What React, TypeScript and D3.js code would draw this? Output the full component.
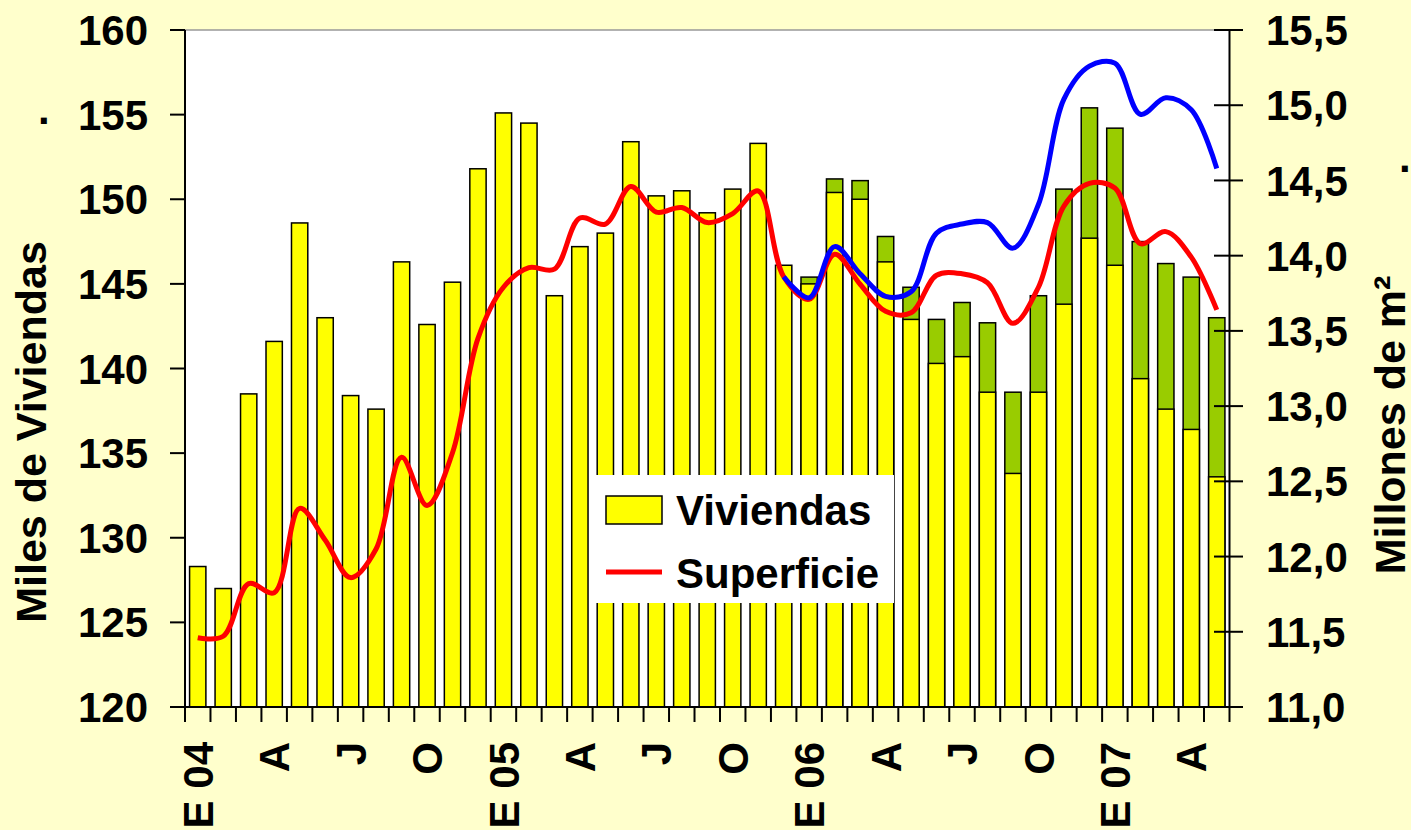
import React from 'react';
import * as d3 from 'd3';

// months Jan 2004 .. May 2007
const months = [
  'ene-04', 'feb-04', 'mar-04', 'abr-04', 'may-04', 'jun-04', 'jul-04', 'ago-04', 'sep-04', 'oct-04', 'nov-04', 'dic-04',
  'ene-05', 'feb-05', 'mar-05', 'abr-05', 'may-05', 'jun-05', 'jul-05', 'ago-05', 'sep-05', 'oct-05', 'nov-05', 'dic-05',
  'ene-06', 'feb-06', 'mar-06', 'abr-06', 'may-06', 'jun-06', 'jul-06', 'ago-06', 'sep-06', 'oct-06', 'nov-06', 'dic-06',
  'ene-07', 'feb-07', 'mar-07', 'abr-07', 'may-07'
];

const labelMonths = ['ene-04', 'abr-04', 'jul-04', 'oct-04', 'ene-05', 'abr-05', 'jul-05', 'oct-05',
  'ene-06', 'abr-06', 'jul-06', 'oct-06', 'ene-07', 'abr-07'];
const labelText = ['E 04', 'A', 'J', 'O', 'E 05', 'A', 'J', 'O', 'E 06', 'A', 'J', 'O', 'E 07', 'A'];

// miles de viviendas
const viviendas = [
  128.3, 127.0, 138.5, 141.6, 148.6, 143.0, 138.4, 137.6, 146.3, 142.6, 145.1, 151.8,
  155.1, 154.5, 144.3, 147.2, 148.0, 153.4, 150.2, 150.5, 149.2, 150.6, 153.3, 146.1,
  145.0, 150.4, 150.0, 146.3, 142.9, 140.3, 140.7, 138.6, 133.8, 138.6, 143.8, 147.7,
  146.1, 139.4, 137.6, 136.4, 133.6
];

// second estimate (green), from ene-06
const viviendasAlt = [
  145.4, 151.2, 151.1, 147.8, 144.8, 142.9, 143.9, 142.7, 138.6, 144.3, 150.6, 155.4,
  154.2, 147.5, 146.2, 145.4, 143.0
];
const altStart = 24;

// millones de m2
const superficie = [
  11.46, 11.47, 11.82, 11.76, 12.32, 12.11, 11.86, 12.05, 12.66, 12.34, 12.69, 13.45,
  13.79, 13.92, 13.91, 14.25, 14.21, 14.46, 14.29, 14.32, 14.22, 14.28, 14.43, 13.86,
  13.71, 14.01, 13.81, 13.63, 13.62, 13.87, 13.88, 13.82, 13.55, 13.79, 14.33, 14.48,
  14.45, 14.08, 14.16, 13.99, 13.64
];

// blue line, from dic-05
const superficieAlt = [
  13.86, 13.72, 14.06, 13.88, 13.73, 13.76, 14.15, 14.21, 14.22, 14.05, 14.34, 15.04,
  15.26, 15.28, 14.94, 15.05, 14.97, 14.58
];
const superficieAltStart = 23;

const leftTicks = [120, 125, 130, 135, 140, 145, 150, 155, 160];
const rightTicks = [11, 11.5, 12, 12.5, 13, 13.5, 14, 14.5, 15, 15.5];

const W = 1411;
const H = 830;
const plot = { left: 185, right: 1229.5, top: 30, bottom: 707 };
const font = '"Liberation Sans", Arial, sans-serif';

export default function App() {
  const x = d3.scaleBand<string>()
    .domain(months)
    .range([plot.left, plot.right])
    .paddingInner(0.36)
    .paddingOuter(0.18);
  const step = x.step();
  const bw = x.bandwidth();
  const cx = (m: string) => (x(m) as number) + bw / 2;

  const yL = d3.scaleLinear().domain([120, 160]).range([plot.bottom, plot.top]);
  const yR = d3.scaleLinear().domain([11, 15.5]).range([plot.bottom, plot.top]);

  const line = d3.line<[number, number]>()
    .x(d => d[0])
    .y(d => yR(d[1]))
    .curve(d3.curveCatmullRom.alpha(0.5));

  const redPts: [number, number][] = superficie.map((v, i) => [cx(months[i]), v]);
  const bluePts: [number, number][] = superficieAlt.map((v, i) => [cx(months[i + superficieAltStart]), v]);

  const boundaries = months.map(m => cx(m) - step / 2).concat([cx(months[months.length - 1]) + step / 2]);

  const txt = { fontFamily: font, fontWeight: 'bold' as const, fill: '#000' };

  return (
    <div style={{ position: 'absolute', left: 0, top: 0 }}>
      <svg width={W} height={H} style={{ display: 'block' }}>
        <rect x={0} y={0} width={W} height={H} fill="#FFFFCC" />
        <rect x={plot.left} y={plot.top} width={plot.right - plot.left} height={plot.bottom - plot.top} fill="#fff" />
        <line x1={plot.left} x2={plot.right} y1={plot.top} y2={plot.top} stroke="#999" strokeWidth={1.5} />

        {/* green bars behind */}
        {viviendasAlt.map((v, i) => {
          const m = months[i + altStart];
          return (
            <rect key={'g' + m} x={x(m)} y={yL(v)} width={bw} height={yL(120) - yL(v)}
              fill="#99CC00" stroke="#000" strokeWidth={1.5} />
          );
        })}
        {viviendas.map((v, i) => (
          <rect key={'y' + months[i]} x={x(months[i])} y={yL(v)} width={bw} height={yL(120) - yL(v)}
            fill="#FFFF00" stroke="#000" strokeWidth={1.5} />
        ))}

        <path d={line(redPts) || ''} fill="none" stroke="#FF0000" strokeWidth={5} strokeLinejoin="round" />
        <path d={line(bluePts) || ''} fill="none" stroke="#0000FF" strokeWidth={5} strokeLinejoin="round" />

        {/* axes */}
        <line x1={plot.left} x2={plot.left} y1={plot.top} y2={plot.bottom} stroke="#000" strokeWidth={2} />
        <line x1={plot.right} x2={plot.right} y1={plot.top} y2={plot.bottom} stroke="#000" strokeWidth={2} />
        <line x1={170} x2={1243} y1={plot.bottom} y2={plot.bottom} stroke="#000" strokeWidth={2} />

        {leftTicks.map(t => (
          <g key={'l' + t}>
            <line x1={170} x2={plot.left} y1={yL(t)} y2={yL(t)} stroke="#000" strokeWidth={2} />
            <text x={148} y={yL(t)} dy="0.36em" textAnchor="end" fontSize={42} {...txt}>{t}</text>
          </g>
        ))}
        {rightTicks.map(t => (
          <g key={'r' + t}>
            <line x1={1214} x2={1243} y1={yR(t)} y2={yR(t)} stroke="#000" strokeWidth={2} />
            <text x={1266} y={yR(t)} dy="0.36em" textAnchor="start" fontSize={42} {...txt}>
              {d3.format('.1f')(t).replace('.', ',')}
            </text>
          </g>
        ))}
        {boundaries.map((b, i) => (
          <line key={'b' + i} x1={b} x2={b} y1={plot.bottom} y2={722} stroke="#000" strokeWidth={2} />
        ))}
        {labelMonths.map((m, i) => (
          <text key={'x' + m} transform={`translate(${cx(m)},742) rotate(-90)`} dy="0.36em"
            textAnchor="end" fontSize={42} {...txt}>{labelText[i]}</text>
        ))}

        {/* axis titles */}
        <text transform="translate(46,432) rotate(-90)" textAnchor="middle" fontSize={43} {...txt}>Miles de Viviendas</text>
        <text transform="translate(1390,425) rotate(-90)" dy="0.36em" textAnchor="middle" fontSize={43} {...txt}>Millones de m²</text>
        <text x={38} y={124} fontSize={42} {...txt}>.</text>
        <text x={1399} y={172} fontSize={42} {...txt}>.</text>

        {/* legend */}
        <rect x={595} y={475} width={299} height={128} fill="#fff" />
        <rect x={606} y={496} width={56} height={28} fill="#FFFF00" stroke="#000" strokeWidth={1.5} />
        <line x1={606} x2={662} y1={572} y2={572} stroke="#FF0000" strokeWidth={5} />
        <text x={676} y={525} fontSize={42} {...txt}>Viviendas</text>
        <text x={676} y={588} fontSize={42} {...txt}>Superficie</text>
      </svg>
    </div>
  );
}
